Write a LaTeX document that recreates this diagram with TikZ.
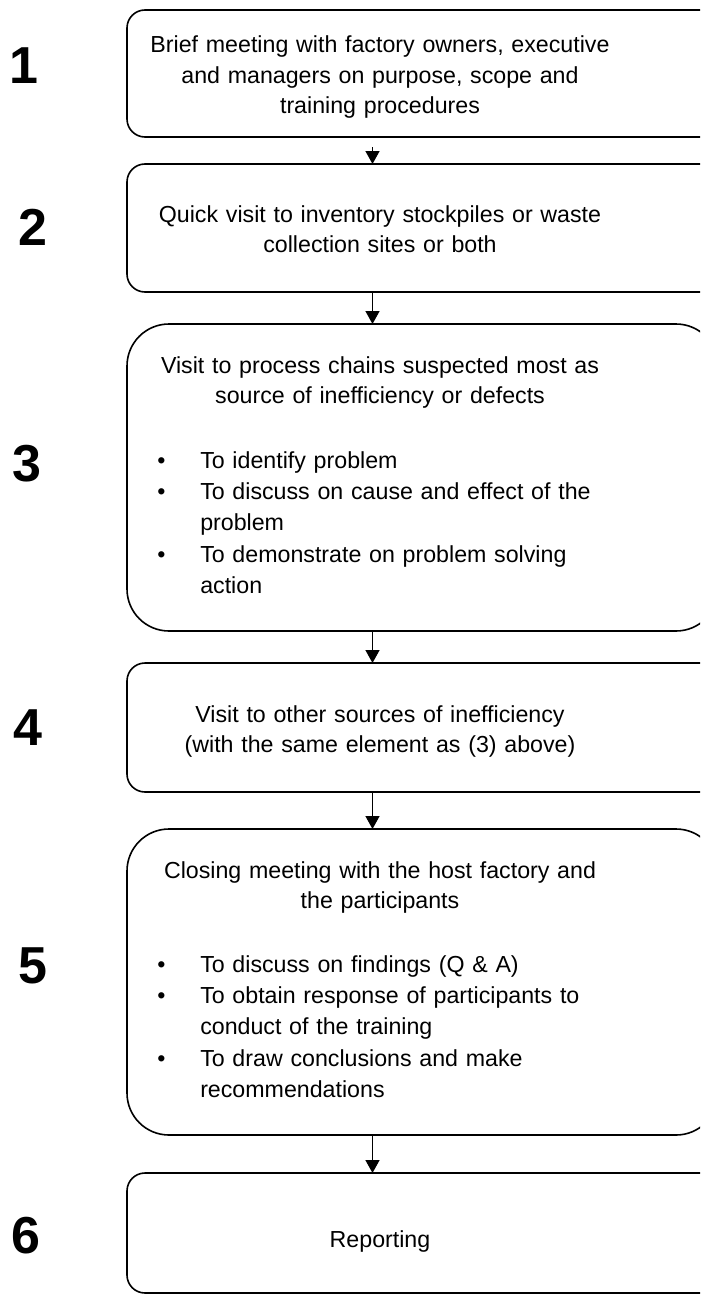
\documentclass[tikz,border=0pt]{standalone}
\usepackage{fontspec}
\setmainfont{Liberation Sans}
\usetikzlibrary{arrows.meta}
\newdimen\pxu \pxu=0.75pt
\newcommand{\bul}{\hangindent=43\pxu\hangafter=1\noindent\makebox[43\pxu][l]{\textbullet}}
\begin{document}
\begin{tikzpicture}[x=0.75pt,y=-0.75pt,
  box/.style={draw, line width=1.2pt, minimum width=591\pxu, inner sep=0pt, outer sep=0pt},
  small/.style={rounded corners=13.5pt},
  big/.style={rounded corners=31.5pt},
  txt/.style={text width=560\pxu, align=center, inner sep=0pt, font=\fontsize{17.4}{22.7}\selectfont},
  bl/.style={text width=500\pxu, align=left, inner sep=0pt, font=\fontsize{17.4}{23.5}\selectfont},
  num/.style={font=\fontsize{39}{41}\selectfont\bfseries, inner sep=0pt},
  arr/.style={line width=1.1pt, -{Triangle[width=10.5pt,length=9.75pt]}}]
\useasboundingbox (0,0) rectangle (700,1295);
\clip (0,0) rectangle (700,1295);

% boxes
\node[box, small, minimum height=127\pxu] (b1) at (422.5,73.5) {};
\node[box, small, minimum height=128\pxu] (b2) at (422.5,228) {};
\node[box, big, minimum height=307\pxu] (b3) at (422.5,477.5) {};
\node[box, small, minimum height=129\pxu] (b4) at (422.5,727.5) {};
\node[box, big, minimum height=306\pxu] (b5) at (422.5,982) {};
\node[box, small, minimum height=120\pxu] (b6) at (422.5,1233) {};

% step numbers
\node[num] (n1) at (24,66) {1};
\node[num] (n2) at (33,227) {2};
\node[num] (n3) at (27,464) {3};
\node[num] (n4) at (27.5,728) {4};
\node[num] (n5) at (33,966) {5};
\node[num] (n6) at (26,1236) {6};

% texts
\node[txt, anchor=base] (t1) at (380,53) {Brief meeting with factory owners, executive\\and managers on purpose, scope and\\training procedures};
\node[txt, anchor=base] (t2) at (380,222) {Quick visit to inventory stockpiles or waste\\collection sites or both};
\node[txt, anchor=base] (t3) at (380,373) {Visit to process chains suspected most as\\source of inefficiency or defects};
\node[bl, anchor=base west] (l3) at (157,468) {\bul To identify problem\par
\bul To discuss on cause and effect of the\break problem\par
\bul To demonstrate on problem solving\break action\par};
\node[txt, anchor=base] (t4) at (380,722) {Visit to other sources of inefficiency\\(with the same element as (3) above)};
\node[txt, anchor=base] (t5) at (380,878) {Closing meeting with the host factory and\\the participants};
\node[bl, anchor=base west] (l5) at (157,972) {\bul To discuss on findings (Q \& A)\par
\bul To obtain response of participants to\break conduct of the training\par
\bul To draw conclusions and make\break recommendations\par};
\node[txt, anchor=base] (t6) at (380,1247) {Reporting};

% connectors
\coordinate (ax) at (372.5,0);
\path (b1.south -| ax) ++(0,10) coordinate (s1);
\draw[arr] (s1) -- (b2.north -| ax);
\draw[arr] (b2.south -| ax) -- (b3.north -| ax);
\draw[arr] (b3.south -| ax) -- (b4.north -| ax);
\draw[arr] (b4.south -| ax) -- (b5.north -| ax);
\draw[arr] (b5.south -| ax) -- (b6.north -| ax);
\end{tikzpicture}
\end{document}
